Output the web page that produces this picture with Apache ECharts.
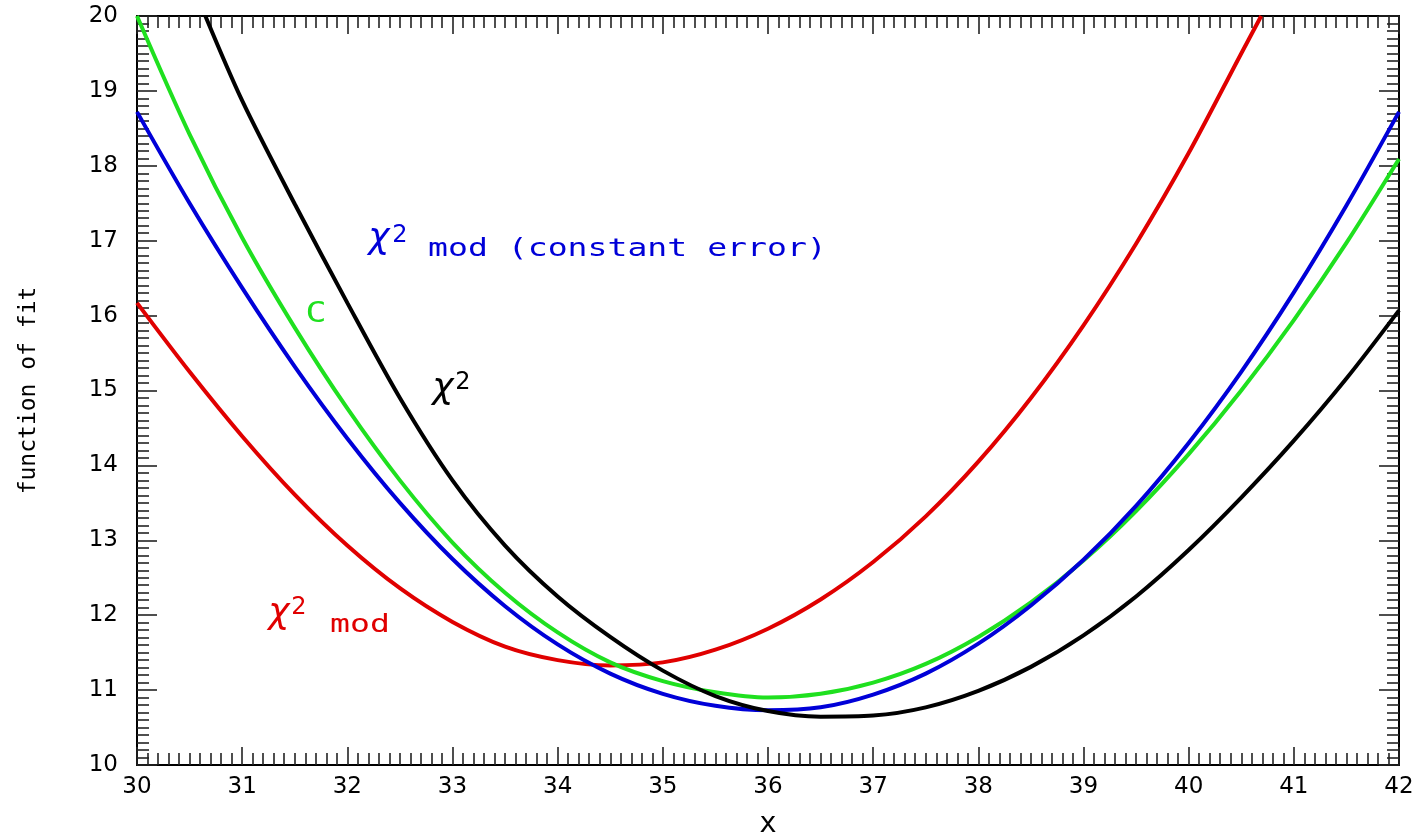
<!DOCTYPE html>
<html>
<head>
<meta charset="utf-8">
<script src="https://cdn.jsdelivr.net/npm/echarts@6/dist/echarts.min.js"></script>
<style>
html,body{margin:0;padding:0;background:#fff;overflow:hidden;}
#chart{width:1421px;height:839px;}
</style>
</head>
<body>
<div id="chart"></div>
<script>
// ---- data ----
const xGrid = [30,30.5,31,31.5,32,32.5,33,33.5,34,34.5,35,35.5,36,36.5,37,37.5,38,38.5,39,39.5,40,40.5,41,41.5,42];

// C statistic (green)
const cY = [20.00,18.42,17.04,15.84,14.76,13.80,12.97,12.30,11.77,11.37,11.12,10.97,10.90,10.95,11.10,11.35,11.71,12.17,12.73,13.39,14.15,15.00,15.94,16.97,18.09];

// chi^2 mod (constant error) (blue)
const chi2ConstY = [18.72,17.50,16.37,15.32,14.36,13.50,12.75,12.12,11.61,11.22,10.95,10.79,10.73,10.77,10.94,11.22,11.62,12.13,12.74,13.46,14.30,15.25,16.31,17.47,18.72];

// chi^2 (black)
const chi2X = [30.65,31,31.5,32,32.5,33,33.5,34,34.5,35,35.5,36,36.5,37,37.5,38,38.5,39,39.5,40,40.5,41,41.5,42];
const chi2Y = [20.00,18.87,17.49,16.17,14.90,13.80,12.93,12.25,11.71,11.26,10.92,10.72,10.645,10.66,10.77,10.99,11.31,11.73,12.25,12.87,13.57,14.33,15.16,16.07];

// chi^2 mod (red)
const chi2modX = [30,30.5,31,31.5,32,32.5,33,33.5,34,34.5,35,35.5,36,36.5,37,37.5,38,38.5,39,39.5,40,40.5,40.69];
const chi2modY = [16.17,15.25,14.39,13.61,12.93,12.36,11.91,11.58,11.40,11.33,11.37,11.54,11.82,12.21,12.71,13.32,14.05,14.90,15.87,16.96,18.17,19.50,20.00];

const xTickLabels = ['30','31','32','33','34','35','36','37','38','39','40','41','42'];
const yTickLabels = ['10','11','12','13','14','15','16','17','18','19','20'];

const COL_RED = '#e00000', COL_GREEN = '#1fe01f', COL_BLUE = '#0000d8', COL_BLACK = '#000000';

function pairs(xs, ys){ return xs.map((x,i)=>[x, ys[i]]); }

const LABEL_FONT = 'DejaVu Sans';
const MONO = 'DejaVu Sans Mono';

function axisCommon(isX, showLabel, pos){
  return {
    type: 'value',
    position: pos,
    min: isX ? 30 : 10,
    max: isX ? 42 : 20,
    interval: 1,
    axisLine: {show: true, onZero: false, lineStyle: {color: '#000', width: 2}},
    axisTick: {show: true, inside: true, length: isX ? 18 : 20, lineStyle: {color: '#222', width: 1.6}},
    minorTick: {show: true, splitNumber: 10, length: 12, lineStyle: {color: '#222', width: 1.6}},
    splitLine: {show: false},
    minorSplitLine: {show: false},
    axisLabel: {
      show: showLabel,
      color: '#000',
      fontFamily: LABEL_FONT,
      fontSize: 23,
      margin: isX ? 11 : 19,
      showMinLabel: true,
      showMaxLabel: true,
      formatter: function(v){
        const arr = isX ? xTickLabels : yTickLabels;
        const idx = Math.round(v - (isX ? 30 : 10));
        return arr[idx] !== undefined ? arr[idx] : '';
      }
    }
  };
}

const xBottom = Object.assign(axisCommon(true, true, 'bottom'), {
  name: 'x', nameLocation: 'middle', nameGap: 45,
  nameTextStyle: {fontFamily: MONO, fontSize: 29, color: '#000'}
});
const xTop = axisCommon(true, false, 'top');
const yLeft = Object.assign(axisCommon(false, true, 'left'), {
  name: 'function of fit', nameLocation: 'middle', nameGap: 96, nameRotate: 90,
  nameTextStyle: {fontFamily: MONO, fontSize: 23, color: '#000'}
});
const yRight = axisCommon(false, false, 'right');

function txt(text, x, y, opts){
  return Object.assign({
    type: 'text', x: x, y: y, z: 100,
    style: Object.assign({
      text: text,
      fontFamily: MONO,
      fontSize: 24,
      fill: '#000',
      textAlign: 'left', align: 'left',
      textVerticalAlign: 'middle', verticalAlign: 'middle'
    }, opts.style || {})
  }, opts.el || {});
}

const chiStyle = {fontFamily: 'DejaVu Sans', fontStyle: 'italic', fontSize: 36, textAlign: 'center', align: 'center'};
const supStyle = {fontFamily: 'DejaVu Sans', fontSize: 24, textAlign: 'center', align: 'center'};

const graphics = [
  // blue label
  txt('\u03c7', 379, 239, {style: Object.assign({}, chiStyle, {fill: COL_BLUE})}),
  txt('2', 400, 236, {style: Object.assign({}, supStyle, {fill: COL_BLUE})}),
  txt('mod (constant error)', 428, 250, {style: {fill: COL_BLUE, fontSize: 24}, el: {scaleX: 1.38}}),
  // green label
  txt('C', 316, 315, {style: {fill: COL_GREEN, fontSize: 28, textAlign: 'center', align: 'center'}, el: {scaleX: 1.25}}),
  // black label
  txt('\u03c7', 443, 389, {style: Object.assign({}, chiStyle, {fill: COL_BLACK})}),
  txt('2', 463, 383, {style: Object.assign({}, supStyle, {fill: COL_BLACK})}),
  // red label
  txt('\u03c7', 279, 614, {style: Object.assign({}, chiStyle, {fill: COL_RED})}),
  txt('2', 299, 608, {style: Object.assign({}, supStyle, {fill: COL_RED})}),
  txt('mod', 330, 626, {style: {fill: COL_RED, fontSize: 24}, el: {scaleX: 1.38}})
];

function lineSeries(name, data, color){
  return {
    name: name, type: 'line', xAxisIndex: 0, yAxisIndex: 0,
    data: data, smooth: 0.3, showSymbol: false, symbol: 'none',
    clip: true,
    lineStyle: {color: color, width: 4},
    itemStyle: {color: color},
    emphasis: {disabled: true},
    animation: false
  };
}

const option = {
  backgroundColor: '#ffffff',
  animation: false,
  grid: {left: 137, right: 22, top: 16, bottom: 74, containLabel: false, outerBoundsMode: 'none'},
  xAxis: [xBottom, xTop],
  yAxis: [yLeft, yRight],
  series: [
    lineSeries('\u03c7\u00b2 mod', pairs(chi2modX, chi2modY), COL_RED),
    lineSeries('C', pairs(xGrid, cY), COL_GREEN),
    lineSeries('\u03c7\u00b2 mod (constant error)', pairs(xGrid, chi2ConstY), COL_BLUE),
    lineSeries('\u03c7\u00b2', pairs(chi2X, chi2Y), COL_BLACK)
  ],
  graphic: graphics
};

const chart = echarts.init(document.getElementById('chart'), null, {renderer: 'canvas'});
chart.setOption(option);
</script>
</body>
</html>
